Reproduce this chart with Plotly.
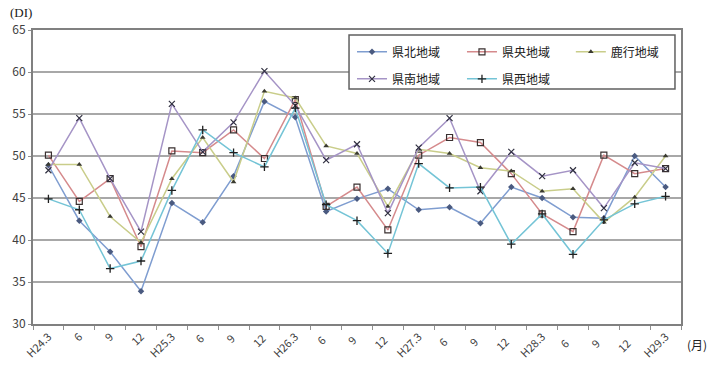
import plotly.graph_objects as go

categories = ["H24.3", "6", "9", "12", "H25.3", "6 ", "9 ", "12 ", "H26.3", "6  ", "9  ", "12  ",
              "H27.3", "6   ", "9   ", "12   ", "H28.3", "6    ", "9    ", "12    ", "H29.3"]

kenpoku = [48.9, 42.3, 38.6, 33.9, 44.4, 42.1, 47.6, 56.5, 54.6, 43.4, 44.9, 46.1,
           43.6, 43.9, 42.0, 46.3, 45.0, 42.7, 42.6, 50.0, 46.3]
kenou = [50.1, 44.6, 47.3, 39.2, 50.6, 50.4, 53.1, 49.7, 56.7, 44.0, 46.3, 41.2,
         50.1, 52.2, 51.6, 47.9, 43.1, 41.0, 50.1, 47.9, 48.5]
rokko = [49.0, 49.0, 42.8, 39.7, 47.3, 52.2, 46.9, 57.7, 56.9, 51.2, 50.3, 44.0,
         50.8, 50.3, 48.6, 48.2, 45.8, 46.1, 42.1, 45.1, 50.0]
kennan = [48.3, 54.5, 47.3, 41.0, 56.2, 50.5, 54.0, 60.1, 56.0, 49.5, 51.4, 43.2,
          51.0, 54.5, 45.8, 50.5, 47.6, 48.3, 43.8, 49.2, 48.5]
kensei = [44.9, 43.6, 36.6, 37.5, 45.9, 53.1, 50.4, 48.7, 55.7, 44.2, 42.3, 38.4,
          49.1, 46.2, 46.3, 39.5, 43.1, 38.3, 42.4, 44.3, 45.2]

series_names = ["県北地域", "県央地域", "鹿行地域", "県南地域", "県西地域"]
yticks = [30, 35, 40, 45, 50, 55, 60, 65]

styles = [
    dict(line="#7f9dd0", marker=dict(symbol="diamond", size=5, color="#4a5a80")),
    dict(line="#d58a8c", marker=dict(symbol="square-open", size=6, color="#3a3030", line=dict(width=1.2, color="#3a3030"))),
    dict(line="#c9cd8a", marker=dict(symbol="triangle-up", size=5, color="#3a3a30")),
    dict(line="#a594c6", marker=dict(symbol="x-thin-open", size=6, color="#303040", line=dict(width=1.2, color="#303040"))),
    dict(line="#74c4d6", marker=dict(symbol="cross-thin-open", size=6, color="#202020", line=dict(width=1.3, color="#202020"))),
]
legend_ids = ["legend", "legend2", "legend3", "legend", "legend2"]

fig = go.Figure()
for name, vals, st, lg in zip(series_names, [kenpoku, kenou, rokko, kennan, kensei], styles, legend_ids):
    fig.add_trace(go.Scatter(x=categories, y=vals, name=name, mode="lines+markers", legend=lg,
                             legendgroup=name,
                             line=dict(color=st["line"], width=1.5), marker=st["marker"]))

leg_common = dict(orientation="v", xanchor="left", yanchor="top", y=0.975,
                  bgcolor="rgba(0,0,0,0)", borderwidth=0,
                  itemwidth=30, tracegroupgap=8, traceorder="grouped",
                  font=dict(family="Noto Sans CJK JP", size=12, color="#202020"))

fig.update_layout(
    width=711, height=365,
    margin=dict(l=33, r=30, t=30, b=41),
    paper_bgcolor="white", plot_bgcolor="white",
    font=dict(family="Noto Sans CJK JP", size=11, color="#404040"),
    showlegend=True,
    hovermode=False,
    legend=dict(x=0.4923, **leg_common),
    legend2=dict(x=0.662, **leg_common),
    legend3=dict(x=0.830, **leg_common),
    xaxis=dict(type="category", range=[-0.5, 20.5], tickangle=-45, tickson="boundaries",
               ticks="outside", ticklen=4, tickcolor="#909090", showgrid=False,
               showline=True, linecolor="#808080", linewidth=2, mirror=True,
               tickfont=dict(size=11, color="#404040"), automargin=False),
    yaxis=dict(range=[30, 65], tickvals=yticks, showgrid=True, gridcolor="#a8a8a8", gridwidth=1.5,
               showline=True, linecolor="#808080", linewidth=2, mirror=True,
               ticks="outside", ticklen=3, tickcolor="#909090", zeroline=False,
               tickfont=dict(size=12, color="#404040"), automargin=False),
    shapes=[dict(type="rect", xref="paper", yref="paper", x0=0.4877, x1=0.9907, y0=0.799, y1=0.983,
                 fillcolor="white", line=dict(color="#606060", width=1.5), layer="above")],
    annotations=[
        dict(text="(DI)", xref="paper", yref="paper", x=-0.039, y=1.058, xanchor="left", yanchor="middle",
             showarrow=False, font=dict(family="Liberation Serif", size=13, color="#202020")),
        dict(text="(月)", xref="paper", yref="paper", x=1.0, xshift=4, y=-0.071, xanchor="left", yanchor="middle",
             showarrow=False, font=dict(family="Noto Sans CJK JP", size=12, color="#202020")),
    ],
)

fig.write_html("out.html", config={"displayModeBar": False, "staticPlot": True},
               post_script="document.body.style.margin='0';")
